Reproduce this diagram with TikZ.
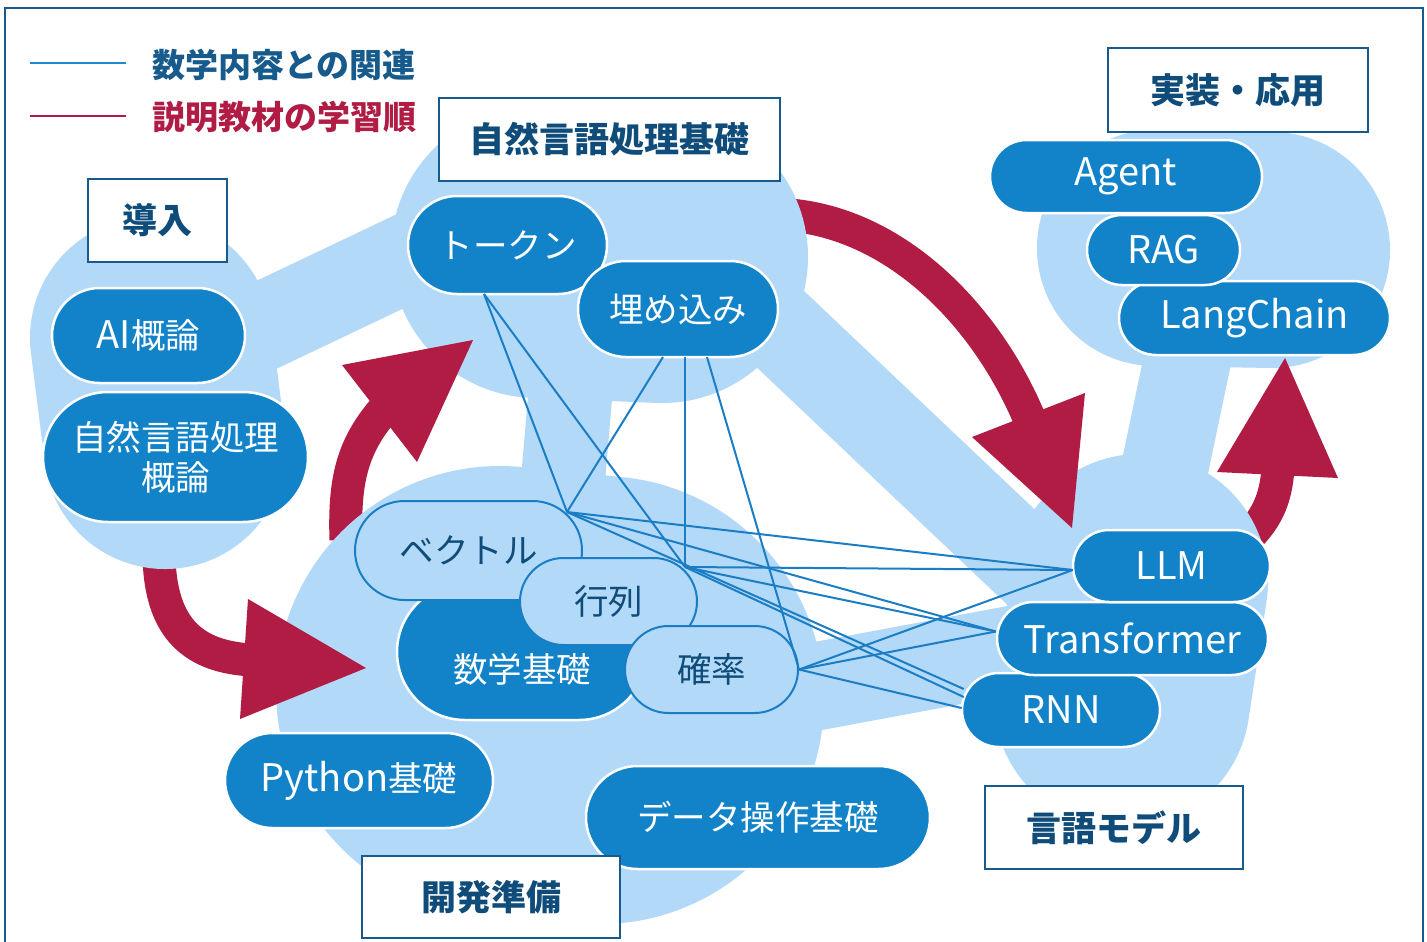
\documentclass[tikz,border=0pt]{standalone}
\usepackage{fontspec}
\setmainfont{Noto Sans CJK JP}
\usetikzlibrary{shapes.misc,calc}
\definecolor{blob}{HTML}{B3D9F8}
\definecolor{nodeblue}{HTML}{1283C9}
\definecolor{frameblue}{HTML}{175A8C}
\definecolor{textblue}{HTML}{0F4C7A}
\definecolor{linkblue}{HTML}{1B7EC5}
\definecolor{legblue}{HTML}{1E88D0}
\definecolor{ordred}{HTML}{B01C44}
\newcommand{\latword}[1]{{\fontsize{38}{40}\selectfont #1}}
\begin{document}
\begin{tikzpicture}[x=1pt,y=-1pt,
  hull/.style={draw=blob, line width=#1, line cap=round},
  band/.style={draw=blob, line width=88pt, line cap=butt},
  topic/.style={rounded rectangle, fill=nodeblue, draw=white, line width=2.5pt, text=white,
    font=\fontsize{34.5}{40}\selectfont, inner sep=0pt, align=center},
  mathtopic/.style={rounded rectangle, fill=blob, draw=linkblue, line width=2pt, text=textblue,
    font=\fontsize{34.5}{40}\selectfont, inner sep=0pt, align=center},
  grouplabel/.style={rectangle, fill=white, draw=frameblue, line width=2.5pt, text=textblue,
    font=\bfseries\fontsize{35}{40}\selectfont, inner sep=0pt},
  legendtext/.style={anchor=west, font=\bfseries\fontsize{33}{38}\selectfont, inner sep=0pt},
  link/.style={draw=linkblue, line width=2pt},
  order/.style={draw=ordred, line width=33pt},
  orderhead/.style={fill=ordred},
]
\useasboundingbox (0,0) rectangle (1427,942);
\clip (0,0) rectangle (1427,942);
\fill[white] (0,0) rectangle (1427,942);
\draw[frameblue, line width=2pt] (5,8) rectangle (1423,960);

% legend
\coordinate (lbA) at (30,63);
\coordinate (lbB) at (126,63);
\coordinate (lrA) at (30,116);
\coordinate (lrB) at (126,116);
\draw[legblue, line width=2pt] (lbA) -- (lbB);
\draw[ordred, line width=2pt] (lrA) -- (lrB);
\node[legendtext, text=frameblue] (legb) at (152,65) {数学内容との関連};
\node[legendtext, text=ordred] (legr) at (152,117) {説明教材の学習順};

% red arrow shafts (under the groups)
\draw[order] (159,555) .. controls (160,630) and (195,657) .. (252,660);
\draw[order] (346,540) .. controls (344,480) and (352,445) .. (387,406);
\draw[order] (790,215) .. controls (900,225) and (990,320) .. (1032,425);
\draw[order] (1245,540) .. controls (1266,520) and (1276,500) .. (1278,468);

% group areas
\draw[hull=242pt] (151,338) -- (165,448);
\draw[hull=292pt] (537,252) -- (662,257);
\draw[hull=448pt] (500,690) -- (600,700);
\draw[hull=256pt] (1140,582) -- (1122,700);
\draw[hull=236pt] (1155,248) -- (1272,250);
% bands between groups
\draw[band] (180,366) -- (470,228);
\draw[band, line width=84pt] (574,350) -- (558,540);
\draw[band] (700,253) -- (1080,613);
\draw[band] (700,708) -- (1060,641);
\draw[band, line width=87pt] (1200,300) -- (1158,500);

% red arrow heads
\fill[orderhead] (248,599) -- (366,668) -- (240,719) -- cycle;
\fill[orderhead] (342,365) -- (473,340) -- (417,462) -- cycle;
\fill[orderhead] (972,437) -- (1085,393) -- (1072,528) -- cycle;
\fill[orderhead] (1217,472) -- (1285,358) -- (1338,478) -- cycle;

% intro
\node[topic, minimum width=193pt, minimum height=95pt] (ai) at (148.5,335.5) {\latword{AI}概論};
\node[topic, minimum width=265pt, minimum height=130pt] (nlpintro) at (175.5,457) {自然言語処理\\概論};
% NLP basics
\node[topic, minimum width=199pt, minimum height=98pt] (tok) at (507.5,245) {トークン};
\node[topic, minimum width=200pt, minimum height=96pt] (emb) at (678,309) {埋め込み};
% math
\node[topic, minimum width=250pt, minimum height=136pt,
  label={[text=white, font=\fontsize{34.5}{40}\selectfont, yshift=-17pt]center:数学基礎}] (mathb) at (522,652) {};
\node[mathtopic, minimum width=227pt, minimum height=99pt] (vec) at (468.5,550.5) {ベクトル};
\node[mathtopic, minimum width=177pt, minimum height=87pt] (mat) at (608.5,601.5) {行列};
\node[mathtopic, minimum width=173pt, minimum height=87pt] (prob) at (711.5,669.5) {確率};
% dev
\node[topic, minimum width=268pt, minimum height=95pt] (py) at (359,780.5) {\latword{Python}基礎};
\node[topic, minimum width=344pt, minimum height=103pt] (data) at (758,817.5) {データ操作基礎};
% application
\node[topic, minimum width=271pt, minimum height=74pt] (lc) at (1254.5,318) {\latword{LangChain}};
\node[topic, minimum width=153pt, minimum height=70pt] (rag) at (1163.5,250) {\latword{RAG}};
\node[topic, minimum width=272pt, minimum height=73pt] (agent) at (1126,176.5) {\latword{Agent}};
% language models
\node[topic, minimum width=198pt, minimum height=74pt] (rnn) at (1061,710) {\latword{RNN}};
\node[topic, minimum width=271pt, minimum height=73pt] (trans) at (1132.5,638.5) {\latword{Transformer}};
\node[topic, minimum width=197pt, minimum height=72pt] (llm) at (1171.5,566) {\latword{LLM}};

% link anchors
\coordinate (tokA) at ($(tok.center)+(-23.5,49)$);
\coordinate (embA) at ($(emb.center)+(-15,48)$);
\coordinate (embB) at ($(emb.center)+(7,48)$);
\coordinate (embC) at ($(emb.center)+(29,48)$);
\coordinate (vecH) at ($(vec.center)+(98.5,-38.5)$);
\coordinate (matH) at ($(mat.center)+(76.5,-34.5)$);
\coordinate (probH) at (prob.east);
\coordinate (llmA) at ($(llm.west)+(1,4)$);
\coordinate (transA) at ($(trans.west)+(0,-7)$);
\coordinate (rnnA) at ($(rnn.west)+(3,-21)$);
\coordinate (rnnB) at ($(rnn.west)+(3,-13)$);
\coordinate (rnnC) at ($(rnn.west)+(1,-2)$);

\draw[link] (tokA) -- (vecH);
\draw[link] (tokA) -- (matH);
\draw[link] (embA) -- (vecH);
\draw[link] (embB) -- (matH);
\draw[link] (embC) -- (probH);
\draw[link] (vecH) -- (llmA);
\draw[link] (vecH) -- (transA);
\draw[link] (vecH) -- (rnnA);
\draw[link] (matH) -- (llmA);
\draw[link] (matH) -- (transA);
\draw[link] (matH) -- (rnnB);
\draw[link] (probH) -- (llmA);
\draw[link] (probH) -- (transA);
\draw[link] (probH) -- (rnnC);

% group labels
\node[grouplabel, minimum width=139pt, minimum height=83pt] (gintro) at (157.5,220.5) {導入};
\node[grouplabel, minimum width=341pt, minimum height=83pt] (gnlp) at (609.5,139.5) {自然言語処理基礎};
\node[grouplabel, minimum width=260pt, minimum height=84pt] (gapp) at (1238,90) {実装・応用};
\node[grouplabel, minimum width=258pt, minimum height=83pt] (glm) at (1114,827.5) {言語モデル};
\node[grouplabel, minimum width=258pt, minimum height=82pt] (gdev) at (491,897) {開発準備};
\end{tikzpicture}
\end{document}
